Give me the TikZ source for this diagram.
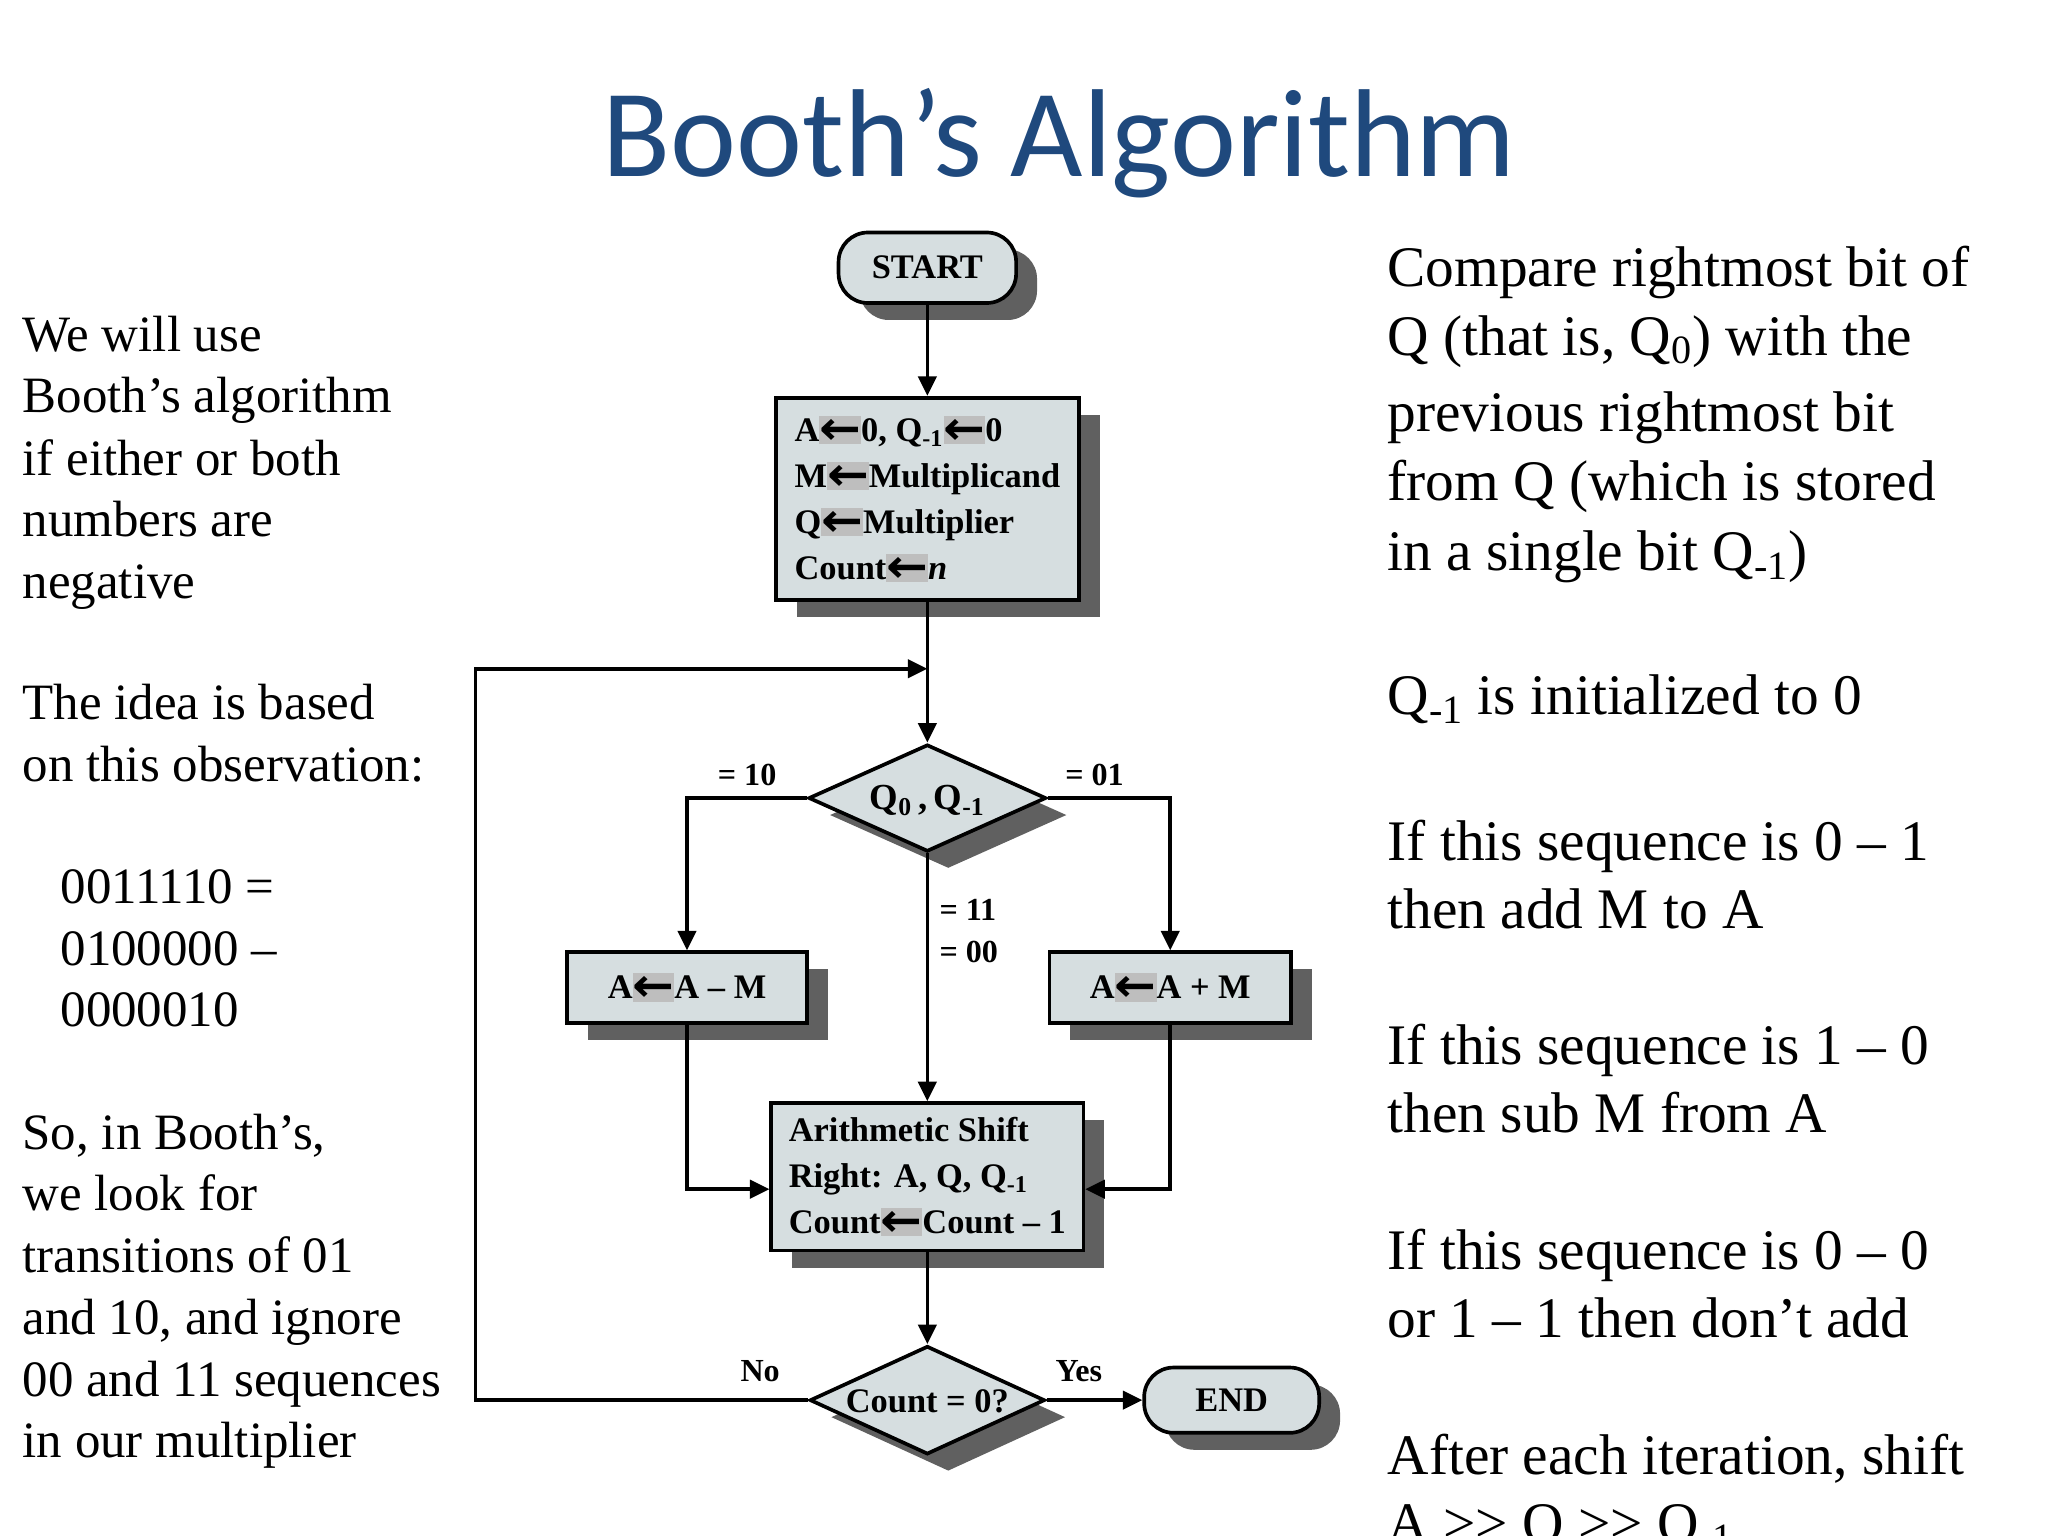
\documentclass[tikz,border=0pt]{standalone}
\usepackage{fontspec}
\usepackage{graphicx}
\setmainfont{Liberation Serif}
\newfontfamily\titlefont{Carlito}
\newfontfamily\arrowfont{DejaVu Sans}
\usetikzlibrary{shapes.geometric,arrows.meta,shadows}
\definecolor{titleblue}{RGB}{31,73,125}
\definecolor{boxfill}{RGB}{214,222,224}
\definecolor{shadowgray}{RGB}{96,96,96}
\definecolor{hl}{RGB}{190,190,190}
\newcommand{\larr}{{\setlength{\fboxsep}{0pt}\colorbox{hl}{\rule[-0.05em]{0pt}{0.8em}\raisebox{-0.08em}{\scalebox{1.45}[1.35]{\arrowfont\bfseries ←}}}}}
\begin{document}
\begin{tikzpicture}[x=0.02cm,y=-0.02cm,
  lt/.style={anchor=base west, inner sep=0pt, font=\fontsize{22.2pt}{26.9pt}\selectfont},
  rt/.style={anchor=base west, inner sep=0pt, font=\fontsize{25pt}{30pt}\selectfont},
  shad/.style={drop shadow={shadow xshift=0.32cm, shadow yshift=-0.26cm, fill=shadowgray, opacity=1}},
  flowbox/.style={draw=black, line width=1.6pt, fill=boxfill, shad, inner sep=0pt,
    font=\fontsize{15pt}{20pt}\selectfont\bfseries},
  dia/.style={flowbox, diamond, aspect=2.2},
  lbl/.style={inner sep=0pt, font=\fontsize{14pt}{16pt}\selectfont\bfseries},
  arr/.style={line width=1.6pt, -{Triangle[length=0.3cm,width=0.28cm]}}]
\useasboundingbox (0,0) rectangle (1568,1176);
\clip (0,0) rectangle (1568,1176);

% title
\node[anchor=base, inner sep=0pt, text=titleblue, font=\titlefont\fontsize{54.5pt}{60pt}\selectfont] (title) at (811,135) {Booth’s Algorithm};

% left text
\node[lt] (l1) at (17,269) {We will use};
\node[lt] (l2) at (17,316) {Booth’s algorithm};
\node[lt] (l3) at (17,364) {if either or both};
\node[lt] (l4) at (17,411) {numbers are};
\node[lt] (l5) at (17,458) {negative};
\node[lt] (l6) at (17,551) {The idea is based};
\node[lt] (l7) at (17,598) {on this observation:};
\node[lt] (l8) at (46,692) {0011110 =};
\node[lt] (l9) at (46,739) {0100000 --};
\node[lt] (l10) at (46,786) {0000010};
\node[lt] (l11) at (17,880) {So, in Booth’s,};
\node[lt] (l12) at (17,927) {we look for};
\node[lt] (l13) at (17,974) {transitions of 01};
\node[lt] (l14) at (17,1022) {and 10, and ignore};
\node[lt] (l15) at (17,1069) {00 and 11 sequences};
\node[lt] (l16) at (17,1116) {in our multiplier};

% right text
\node[rt] (r1) at (1062,219) {Compare rightmost bit of};
\node[rt] (r2) at (1062,272) {Q (that is, Q\textsubscript{0}) with the};
\node[rt] (r3) at (1062,330) {previous rightmost bit};
\node[rt] (r4) at (1062,383) {from Q (which is stored};
\node[rt] (r5) at (1062,437) {in a single bit Q\textsubscript{-1})};
\node[rt] (r6) at (1062,547) {Q\textsubscript{-1} is initialized to 0};
\node[rt] (r7) at (1062,659) {If this sequence is 0 -- 1};
\node[rt] (r8) at (1062,711) {then add M to A};
\node[rt] (r9) at (1062,815) {If this sequence is 1 -- 0};
\node[rt] (r10) at (1062,867) {then sub M from A};
\node[rt] (r11) at (1062,972) {If this sequence is 0 -- 0};
\node[rt] (r12) at (1062,1024) {or 1 -- 1 then don’t add};
\node[rt] (r13) at (1062,1129) {After each iteration, shift};
\node[rt] (r14) at (1062,1181) {A >{}> Q >{}> Q\textsubscript{-1}};

% flowchart nodes
\node[flowbox, rounded corners=0.45cm, minimum width=2.72cm, minimum height=1.08cm] (start) at (710,205) {START};
\node[flowbox, minimum width=4.64cm, minimum height=3.1cm, align=left] (init) at (710,382)
  {A\larr0, Q\textsubscript{-1}\larr0\\ M\larr Multiplicand\\ Q\larr Multiplier\\ Count\larr\textit{n}};
\node[dia, minimum width=3.64cm, minimum height=1.64cm] (d1) at (710,611) {};
\node[lbl, font=\fontsize{16pt}{18pt}\selectfont\bfseries] (d1t) at (710,613) {Q\textsubscript{0}\,,\,Q\textsubscript{-1}};
\node[flowbox, minimum width=3.68cm, minimum height=1.08cm] (sub) at (526,756) {A\larr A -- M};
\node[flowbox, minimum width=3.7cm, minimum height=1.08cm] (add) at (896,756) {A\larr A + M};
\node[flowbox, minimum width=4.78cm, minimum height=2.26cm, align=left] (shift) at (710,901)
  {Arithmetic Shift\\ Right: A, Q, Q\textsubscript{-1}\\ Count\larr Count -- 1};
\node[dia, minimum width=3.6cm, minimum height=1.66cm] (d2) at (710,1072) {};
\node[lbl, font=\fontsize{15pt}{18pt}\selectfont\bfseries] (d2t) at (710,1073) {Count = 0?};
\node[flowbox, rounded corners=0.45cm, minimum width=2.68cm, minimum height=1.0cm] (stop) at (943,1072) {END};

% labels
\node[lbl] (e10) at (572,593) {= 10};
\node[lbl] (e01) at (838,593) {= 01};
\node[lbl, anchor=west] (e11) at (719,697) {= 11};
\node[lbl, anchor=west] (e00) at (719,729) {= 00};
\node[lbl] (no) at (582,1050) {No};
\node[lbl] (yes) at (826,1050) {Yes};

% connectors
\coordinate (join) at (710,512);
\coordinate (loopc) at (364,512);
\draw[arr] (start) -- (init);
\draw[arr] (init) -- (d1);
\draw[arr] (d2.west) -| (loopc) -- (join);
\draw[arr] (d1.west) -| (sub.north);
\draw[arr] (d1.east) -| (add.north);
\draw[arr] (d1.south) -- (shift.north);
\draw[arr] (sub.south) |- ([yshift=-0.19cm]shift.west);
\draw[arr] (add.south) |- ([yshift=-0.19cm]shift.east);
\draw[arr] (shift) -- (d2);
\draw[arr] (d2.east) -- (stop.west);
\end{tikzpicture}
\end{document}
